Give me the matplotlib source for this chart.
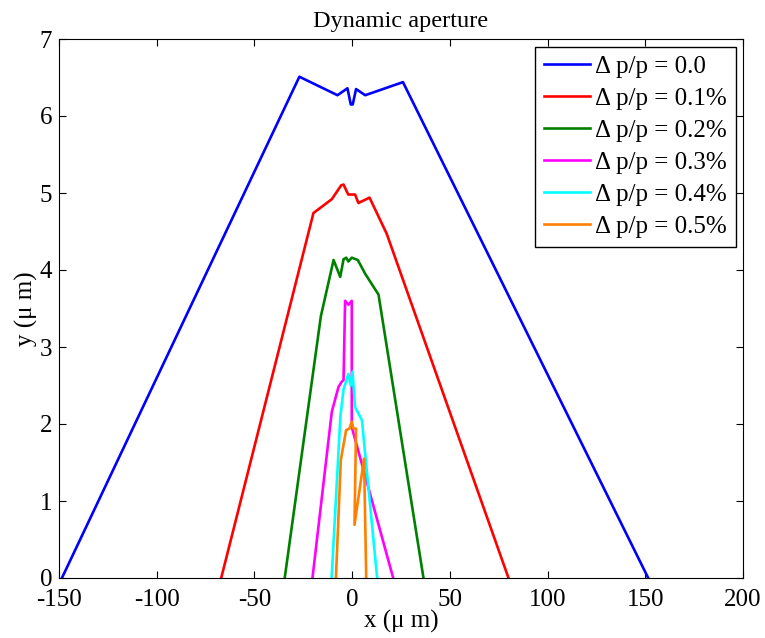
import numpy as np
import matplotlib
matplotlib.use("Agg")
import matplotlib.pyplot as plt

plt.rcParams['font.family'] = ['Liberation Serif', 'DejaVu Serif']
plt.rcParams['axes.unicode_minus'] = False

# dynamic aperture boundaries, x and y in micrometres
x_00 = [-148.5, -27, -7.5, -2.4, -0.7, 0.3, 2, 6.7, 26, 151.5]
y_00 = [0, 6.51, 6.27, 6.36, 6.15, 6.15, 6.35, 6.27, 6.44, 0]

x_01 = [-67, -19.8, -10.4, -5.6, -4.4, -2, 1.5, 3.2, 8.9, 17.7, 80]
y_01 = [0, 4.74, 4.92, 5.10, 5.11, 4.98, 4.98, 4.87, 4.94, 4.47, 0]

x_02 = [-34.5, -16, -9.5, -6.1, -4.4, -3, -1.9, -0.2, 2.9, 6.7, 13.5, 36.5]
y_02 = [0, 3.4, 4.13, 3.91, 4.14, 4.16, 4.11, 4.16, 4.13, 3.95, 3.68, 0]

x_03 = [-20.3, -10.4, -7, -5.3, -4.4, -3.6, -1.9, -0.2, -0.2, 21]
y_03 = [0, 2.16, 2.48, 2.55, 2.57, 3.60, 3.55, 3.60, 1.96, 0]

x_04 = [-10.5, -6, -4.4, -1.9, -0.7, 0.2, 1.5, 5, 12.8]
y_04 = [0, 2.1, 2.45, 2.65, 2.5, 2.68, 2.22, 2.05, 0]

x_05 = [-8.3, -5.8, -3.1, -1.4, -0.2, 0.7, 2, 1.2, 6.1, 7.2]
y_05 = [0, 1.53, 1.92, 1.94, 2.03, 1.94, 1.94, 0.69, 1.55, 0]

labels = ['0.0', '0.1%', '0.2%', '0.3%', '0.4%', '0.5%']
colors = ['#0000ff', '#ff0000', '#008000', '#ff00ff', '#00ffff', '#ff8000']
xs = [x_00, x_01, x_02, x_03, x_04, x_05]
ys = [y_00, y_01, y_02, y_03, y_04, y_05]

fig = plt.figure(figsize=(7.65, 6.38), dpi=100)
ax = fig.add_axes([59/765, 1-578/638, 684/765, 539/638])

for x, y, lab, c in zip(xs, ys, labels, colors):
    ax.plot(x, y, color=c, lw=1.9, label='Δ p/p = ' + lab)

ax.set_xlim(-150, 200)
ax.set_ylim(0, 7)
ax.set_xticks(np.arange(-150, 201, 50))
ax.set_yticks(np.arange(0, 8, 1))
ax.tick_params(direction='in', top=True, right=True, labelsize=18, length=5)
ax.tick_params(axis='x', pad=8)
ax.tick_params(axis='y', pad=5)
ax.set_xlabel('x (μ m)', fontsize=18, labelpad=-1)
ax.set_ylabel('y (μ m)', fontsize=18, labelpad=1)
ax.set_title('Dynamic aperture', fontsize=17.5, pad=9)

leg = ax.legend(loc='upper right', fontsize=18, fancybox=False, framealpha=1,
                edgecolor='black', handlelength=1.85, borderaxespad=0.3,
                labelspacing=0.38, handletextpad=0.2, borderpad=0.35)
leg.get_frame().set_linewidth(1.0)

fig.savefig('out.png', dpi=100)
